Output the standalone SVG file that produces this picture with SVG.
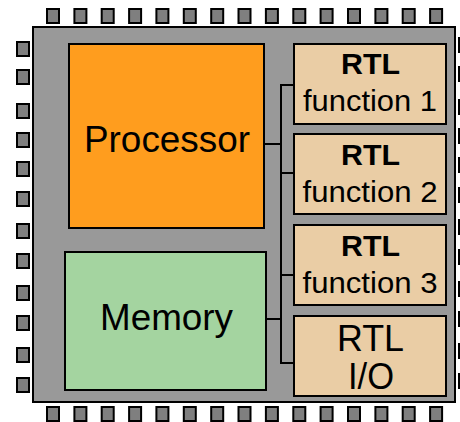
<svg xmlns="http://www.w3.org/2000/svg" width="460" height="422" viewBox="0 0 460 422">
<defs>
<style>
.pin{fill:#7f7f7f;stroke:#000;stroke-width:2}
.chip{fill:#999999;stroke:#000;stroke-width:2}
.blk{stroke:#000;stroke-width:2}
.proc{fill:#ff9d1e}
.mem{fill:#a4d4a0}
.rtl{fill:#eacda5}
.conn{fill:none;stroke:#000;stroke-width:2}
text{font-family:"Liberation Sans",Arial,sans-serif;fill:#000;text-anchor:middle}
.big{font-size:36px}
.mid{font-size:29px}
.b{font-weight:bold}
</style>
</defs>
<g id="pins">
<g id="pins-top">
<rect class="pin" x="47" y="9" width="12" height="14"/>
<rect class="pin" x="74.4" y="9" width="12" height="14"/>
<rect class="pin" x="101.7" y="9" width="12" height="14"/>
<rect class="pin" x="129.1" y="9" width="12" height="14"/>
<rect class="pin" x="156.4" y="9" width="12" height="14"/>
<rect class="pin" x="183.8" y="9" width="12" height="14"/>
<rect class="pin" x="211.2" y="9" width="12" height="14"/>
<rect class="pin" x="238.5" y="9" width="12" height="14"/>
<rect class="pin" x="265.9" y="9" width="12" height="14"/>
<rect class="pin" x="293.3" y="9" width="12" height="14"/>
<rect class="pin" x="320.6" y="9" width="12" height="14"/>
<rect class="pin" x="348" y="9" width="12" height="14"/>
<rect class="pin" x="375.4" y="9" width="12" height="14"/>
<rect class="pin" x="402.7" y="9" width="12" height="14"/>
<rect class="pin" x="430.1" y="9" width="12" height="14"/>
</g>
<g id="pins-bottom">
<rect class="pin" x="47" y="407" width="12" height="14"/>
<rect class="pin" x="74.4" y="407" width="12" height="14"/>
<rect class="pin" x="101.7" y="407" width="12" height="14"/>
<rect class="pin" x="129.1" y="407" width="12" height="14"/>
<rect class="pin" x="156.4" y="407" width="12" height="14"/>
<rect class="pin" x="183.8" y="407" width="12" height="14"/>
<rect class="pin" x="211.2" y="407" width="12" height="14"/>
<rect class="pin" x="238.5" y="407" width="12" height="14"/>
<rect class="pin" x="265.9" y="407" width="12" height="14"/>
<rect class="pin" x="293.3" y="407" width="12" height="14"/>
<rect class="pin" x="320.6" y="407" width="12" height="14"/>
<rect class="pin" x="348" y="407" width="12" height="14"/>
<rect class="pin" x="375.4" y="407" width="12" height="14"/>
<rect class="pin" x="402.7" y="407" width="12" height="14"/>
<rect class="pin" x="430.1" y="407" width="12" height="14"/>
</g>
<g id="pins-left">
<rect class="pin" x="17" y="42" width="12" height="14"/>
<rect class="pin" x="17" y="70" width="12" height="14"/>
<rect class="pin" x="17" y="104" width="12" height="14"/>
<rect class="pin" x="17" y="133" width="12" height="14"/>
<rect class="pin" x="17" y="162" width="12" height="14"/>
<rect class="pin" x="17" y="192" width="12" height="14"/>
<rect class="pin" x="17" y="224" width="12" height="14"/>
<rect class="pin" x="17" y="254" width="12" height="14"/>
<rect class="pin" x="17" y="286" width="12" height="14"/>
<rect class="pin" x="17" y="316" width="12" height="14"/>
<rect class="pin" x="17" y="348" width="12" height="14"/>
<rect class="pin" x="17" y="378" width="12" height="14"/>
</g>
<g id="pins-right">
<rect class="pin" x="459" y="38" width="12" height="14"/>
<rect class="pin" x="459" y="67" width="12" height="14"/>
<rect class="pin" x="459" y="100" width="12" height="14"/>
<rect class="pin" x="459" y="129" width="12" height="14"/>
<rect class="pin" x="459" y="158" width="12" height="14"/>
<rect class="pin" x="459" y="188" width="12" height="14"/>
<rect class="pin" x="459" y="220" width="12" height="14"/>
<rect class="pin" x="459" y="250" width="12" height="14"/>
<rect class="pin" x="459" y="282" width="12" height="14"/>
<rect class="pin" x="459" y="312" width="12" height="14"/>
<rect class="pin" x="459" y="344" width="12" height="14"/>
<rect class="pin" x="459" y="374" width="12" height="14"/>
</g>
</g>
<g id="chip">
<rect class="chip" x="33" y="27" width="422" height="375"/>
</g>
<g id="connectors">
<path class="conn" d="M294 85H281V363H294M281 173H294M281 275H294M265 144H281M267 319H281"/>
</g>
<g id="processor">
<rect class="proc blk" x="69" y="44" width="195" height="184"/>
<text class="big" x="167" y="151.5" textLength="166" lengthAdjust="spacingAndGlyphs">Processor</text>
</g>
<g id="memory">
<rect class="mem blk" x="65" y="252" width="201" height="138"/>
<text class="big" x="166.5" y="330" textLength="133" lengthAdjust="spacingAndGlyphs">Memory</text>
</g>
<g id="rtl1">
<rect class="rtl blk" x="294" y="44" width="152" height="80"/>
<text class="mid b" x="370.5" y="74" textLength="59" lengthAdjust="spacingAndGlyphs">RTL</text>
<text class="mid" x="370" y="110.5" textLength="134" lengthAdjust="spacingAndGlyphs">function 1</text>
</g>
<g id="rtl2">
<rect class="rtl blk" x="294" y="134" width="152" height="80"/>
<text class="mid b" x="370.5" y="165" textLength="59" lengthAdjust="spacingAndGlyphs">RTL</text>
<text class="mid" x="370" y="201.5" textLength="135" lengthAdjust="spacingAndGlyphs">function 2</text>
</g>
<g id="rtl3">
<rect class="rtl blk" x="294" y="225" width="152" height="80"/>
<text class="mid b" x="370.5" y="256" textLength="59" lengthAdjust="spacingAndGlyphs">RTL</text>
<text class="mid" x="370" y="292.5" textLength="135" lengthAdjust="spacingAndGlyphs">function 3</text>
</g>
<g id="rtl-io">
<rect class="rtl blk" x="294" y="316" width="152" height="80"/>
<text class="big" x="370.5" y="351" textLength="67" lengthAdjust="spacingAndGlyphs">RTL</text>
<text class="big" x="371" y="389" textLength="46" lengthAdjust="spacingAndGlyphs">I/O</text>
</g>
</svg>
